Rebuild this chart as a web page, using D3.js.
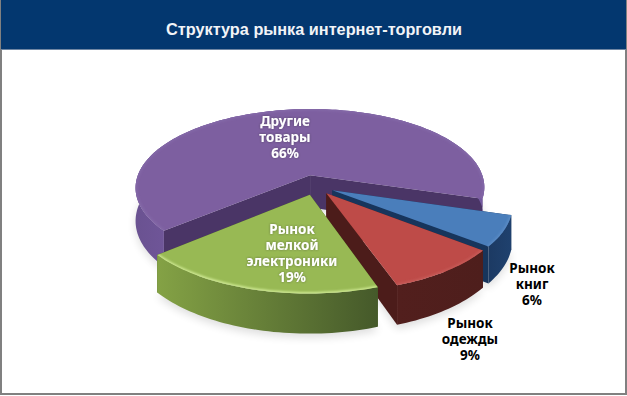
<!DOCTYPE html>
<html>
<head>
<meta charset="utf-8">
<script src="https://cdn.jsdelivr.net/npm/d3@7/dist/d3.min.js"></script>
<style>
	html, body { margin: 0; padding: 0; background: #fff; }
	svg { display: block; }
	text { text-anchor: middle; }
</style>
</head>
<body>
<svg id="svg_1" width="627" height="396"></svg>
<script>
var title = "Структура рынка интернет-торговли";

// slices in drawing order, back to front
var categories = ["Другие товары", "Рынок книг", "Рынок одежды", "Рынок мелкой электроники"];
var values = [66, 6, 9, 19];
var label_lines = [["Другие", "товары", "66%"], ["Рынок", "книг", "6%"], ["Рынок", "одежды", "9%"], ["Рынок", "мелкой", "электроники", "19%"]];
var top_colors = ["#7d5fa0", "#4a7ebb", "#be4b48", "#98b954"];
var edge_colors = ["#8469a8", "#5b8cc6", "#c75c59", "#d0ea94"];
var wall_left = ["#6a5291", "#1c3a63", "#521f1d", "#84a245"];
var wall_right = ["#7459a0", "#1f416e", "#4e1e1c", "#45592a"];
var cut_colors = ["#4a3566", "#17355c", "#4c1c1a", "#455a20"];
var label_colors = ["#fff", "#000", "#000", "#fff"];
var label_x = [285, 532, 470, 292];
var label_y = [126, 273, 328, 234];
var explode = [0.14, 0.11, 0.11, 0.11];

var svg = d3.select("#svg_1");
var width = 627, height = 396;

// pie lying on a plane, seen in perspective
var cx = 315, cy = 186, R = 176, tilt = 80, persp = 0.16, thick = 33;

function project(u, v, z) {
	var w = 1 - persp * v;
	return [cx + R * u / w, cy + (tilt * v + thick * z) / w];
}

// start of the blue slice is 107 deg, the purple one comes before it
var blue_start = 107 * Math.PI / 180;
var pie = d3.pie().sort(null).value(d => d)
	.startAngle(blue_start - 2 * Math.PI * 0.66)
	.endAngle(blue_start + 2 * Math.PI * 0.34);
var arcs = pie(values);

var line = d3.line();
var defs = svg.append("defs");

defs.append("filter").attr("id", "soft").attr("x", "-20%").attr("y", "-20%").attr("width", "140%").attr("height", "140%")
	.append("feGaussianBlur").attr("stdDeviation", 1.2);
defs.append("filter").attr("id", "shadow").attr("x", "-20%").attr("y", "-20%").attr("width", "140%").attr("height", "140%")
	.append("feGaussianBlur").attr("stdDeviation", 4);
var tf = defs.append("filter").attr("id", "textglow").attr("x", "-20%").attr("y", "-20%").attr("width", "140%").attr("height", "140%");
tf.append("feDropShadow").attr("dx", 0).attr("dy", 0).attr("stdDeviation", 1.2).attr("flood-color", "#333").attr("flood-opacity", 0.5);

// background and header
svg.append("rect").attr("x", 1).attr("y", 1).attr("width", width - 2).attr("height", height - 3)
	.attr("fill", "#fff").attr("stroke", "#808080").attr("stroke-width", 2);
svg.append("rect").attr("x", 1).attr("y", 0).attr("width", width - 2).attr("height", 49).attr("fill", "#03376f");
svg.append("rect").attr("x", 1).attr("y", 49).attr("width", width - 2).attr("height", 1).attr("fill", "#6f86a3");
svg.append("text").attr("x", 314).attr("y", 35).attr("fill", "#f2f4f7")
	.style("font", "bold 16.3px 'Liberation Sans'").text(title);

function sample(a0, a1, off) {
	var n = Math.max(8, Math.round((a1 - a0) * 40));
	return d3.range(n + 1).map(i => {
		var a = a0 + (a1 - a0) * i / n;
		return [off[0] + Math.sin(a), off[1] - Math.cos(a)];
	});
}

var g = svg.append("g");

// soft shadow under the front of the pie
arcs.forEach(function(d, i) {
	var mid = (d.startAngle + d.endAngle) / 2;
	var off = [explode[i] * Math.sin(mid), -explode[i] * Math.cos(mid)];
	var rim = sample(d.startAngle, d.endAngle, off);
	var pts = rim.map(p => project(p[0], p[1], 1.1)).concat([project(off[0], off[1], 1.1)]);
	g.append("path").attr("d", line(pts) + "Z").attr("fill", "#000").attr("opacity", 0.13).attr("filter", "url(#shadow)");
});

arcs.forEach(function(d, i) {
	var mid = (d.startAngle + d.endAngle) / 2;
	var off = [explode[i] * Math.sin(mid), -explode[i] * Math.cos(mid)];
	var rim = sample(d.startAngle, d.endAngle, off);
	var apex_top = project(off[0], off[1], 0), apex_bot = project(off[0], off[1], 1);
	var top_pts = rim.map(p => project(p[0], p[1], 0));
	var bot_pts = rim.map(p => project(p[0], p[1], 1));

	var xs = d3.extent(bot_pts, p => p[0]);
	var gid = "wall" + i;
	var grad = defs.append("linearGradient").attr("id", gid).attr("gradientUnits", "userSpaceOnUse")
		.attr("x1", xs[0]).attr("x2", i == 0 ? xs[0] + 60 : xs[1]).attr("y1", 0).attr("y2", 0);
	grad.append("stop").attr("offset", "0").attr("stop-color", wall_left[i]);
	grad.append("stop").attr("offset", "1").attr("stop-color", wall_right[i]);

	// cut walls
	g.append("path").attr("d", line([apex_top, top_pts[0], bot_pts[0], apex_bot]) + "Z").attr("fill", cut_colors[i]);
	g.append("path").attr("d", line([apex_top, top_pts[top_pts.length - 1], bot_pts[bot_pts.length - 1], apex_bot]) + "Z").attr("fill", cut_colors[i]);
	// outer wall
	g.append("path").attr("d", line(top_pts.concat(bot_pts.slice().reverse())) + "Z").attr("fill", "url(#" + gid + ")");
	// top face
	var top_d = line([apex_top].concat(top_pts)) + "Z";
	g.append("path").attr("d", top_d).attr("fill", top_colors[i]);
	// bevel light along the rim
	var clip = "clip" + i;
	defs.append("clipPath").attr("id", clip).append("path").attr("d", top_d);
	g.append("g").attr("clip-path", "url(#" + clip + ")")
		.append("path").attr("d", line(top_pts)).attr("fill", "none")
		.attr("stroke", edge_colors[i]).attr("stroke-width", 3).attr("filter", "url(#soft)");
});

// labels
label_lines.forEach(function(lines, i) {
	var t = svg.append("text").attr("fill", label_colors[i])
		.style("font", "bold 13.5px 'Noto Sans'");
	if (label_colors[i] == "#fff") t.attr("filter", "url(#textglow)");
	lines.forEach(function(s, k) {
		t.append("tspan").attr("x", label_x[i]).attr("y", label_y[i] + k * 16).text(s);
	});
});
</script>
</body>
</html>
